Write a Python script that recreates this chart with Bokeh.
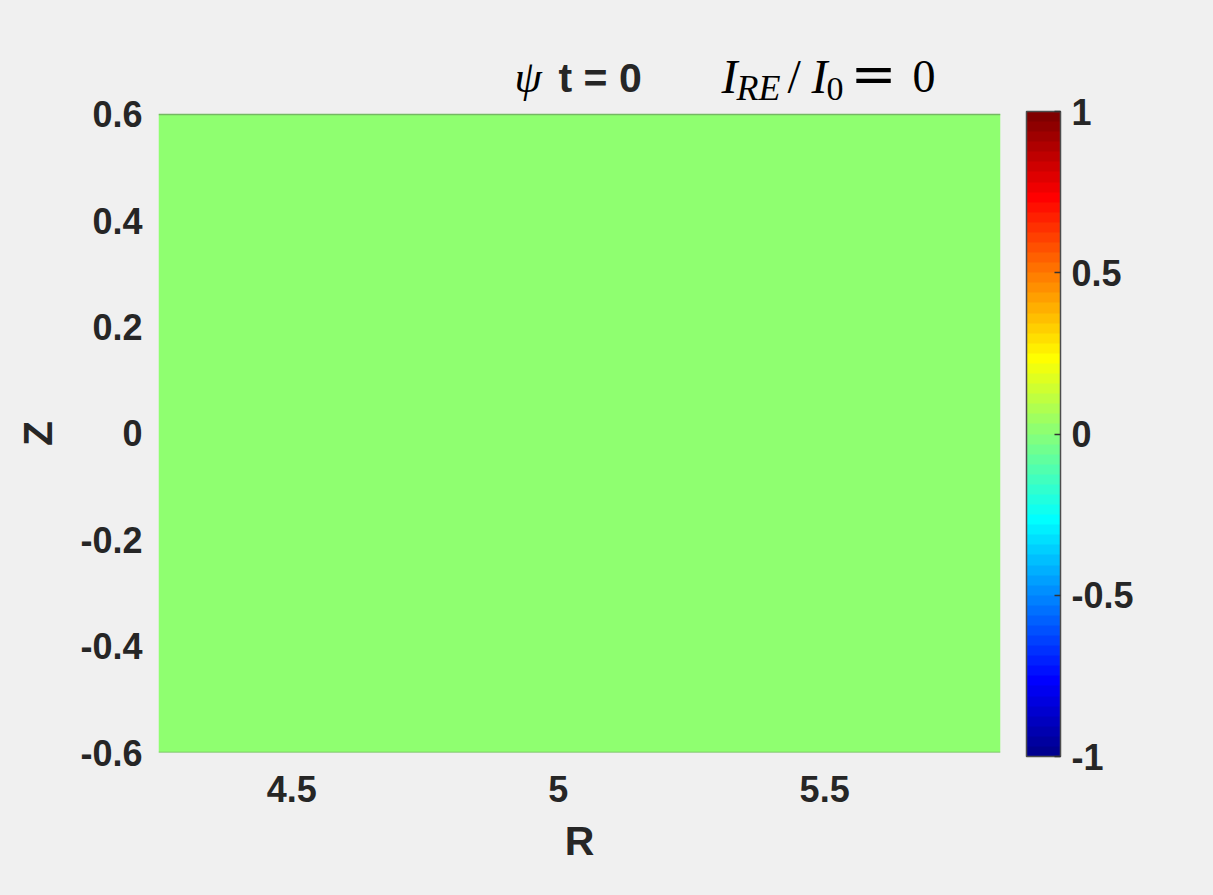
import math
import numpy as np
from bokeh.plotting import figure
from bokeh.models import (LinearColorMapper, ColorBar, FixedTicker, Label, Span,
                          CustomJSTickFormatter, LinearAxis)
from bokeh.embed import file_html
from bokeh.resources import INLINE

# ---------------- data ----------------
R_RANGE = [4.25, 5.83]
Z_RANGE = [-0.6, 0.6]
Z_VIEW_TOP = 0.739          # room above the field for the title line
PSI = [
    [0.0, 0.0, 0.0, 0.0],
    [0.0, 0.0, 0.0, 0.0],
    [0.0, 0.0, 0.0, 0.0],
]
X_TICKS = [4.5, 5.0, 5.5]
X_TICK_LABELS = ["4.5", "5", "5.5"]
Y_TICKS = [-0.6, -0.4, -0.2, 0.0, 0.2, 0.4, 0.6]
Y_TICK_LABELS = ["-0.6", "-0.4", "-0.2", "0", "0.2", "0.4", "0.6"]
CB_TICKS = [-1.0, -0.5, 0.0, 0.5, 1.0]
CB_TICK_LABELS = ["-1", "-0.5", "0", "0.5", "1"]
CLIM = [-1.0, 1.0]
X_LABEL = "R"
Y_LABEL = "Z"
T_VALUE = "0"
I_RATIO = "0"

# ---------------- style ----------------
BG = "#f0f0f0"
TXT = "#262626"
SANS = "Liberation Sans"
SERIF = "Liberation Serif"


def jet(m=64):
    n = math.ceil(m / 4)
    u = [i / n for i in range(1, n + 1)] + [1.0] * (n - 1) + [i / n for i in range(n, 0, -1)]
    g0 = math.ceil(n / 2) - (1 if m % 4 == 1 else 0)
    rgb = [[0.0, 0.0, 0.0] for _ in range(m)]
    for k in range(len(u)):
        g = g0 + k + 1
        for ch, idx in ((0, g + n), (1, g), (2, g - n)):
            if 1 <= idx <= m:
                rgb[idx - 1][ch] = u[k]
    return ["#%02x%02x%02x" % tuple(int(round(c * 255)) for c in row) for row in rgb]


def fmt(ticks, labels):
    return CustomJSTickFormatter(
        args=dict(tv=ticks, tl=labels),
        code="const i = tv.findIndex(t => Math.abs(t - tick) < 1e-9); return i >= 0 ? tl[i] : '';")


mapper = LinearColorMapper(palette=jet(64), low=CLIM[0], high=CLIM[1])

p = figure(frame_width=842, frame_height=712,
           x_range=tuple(R_RANGE), y_range=(Z_RANGE[0], Z_VIEW_TOP),
           min_border_left=158, min_border_right=213,
           min_border_top=40, min_border_bottom=143,
           output_backend="svg", toolbar_location=None,
           background_fill_color=BG, border_fill_color=BG)
p.styles = {"background-color": BG}
p.outline_line_color = None
p.grid.visible = False

p.image(image=[np.array(PSI, dtype=float)], x=R_RANGE[0], y=Z_RANGE[0],
        dw=R_RANGE[1] - R_RANGE[0], dh=Z_RANGE[1] - Z_RANGE[0],
        color_mapper=mapper)

for loc in Z_RANGE:
    p.add_layout(Span(location=loc, dimension="width", line_color="#74b862",
                      line_width=1.5))


def style_axis(ax):
    ax.axis_line_color = None
    ax.major_tick_line_color = None
    ax.minor_tick_line_color = None
    ax.major_label_text_font = SANS
    ax.major_label_text_font_style = "bold"
    ax.major_label_text_font_size = "36px"
    ax.major_label_text_color = TXT
    ax.axis_label_text_font = SANS
    ax.axis_label_text_font_style = "bold"
    ax.axis_label_text_font_size = "41px"
    ax.axis_label_text_color = TXT


xa = p.xaxis[0]
xa.ticker = FixedTicker(ticks=X_TICKS)
xa.formatter = fmt(X_TICKS, X_TICK_LABELS)
xa.axis_label = X_LABEL
style_axis(xa)
xa.major_label_standoff = 17
xa.axis_label_standoff = 13

ya = p.yaxis[0]
ya.ticker = FixedTicker(ticks=Y_TICKS)
ya.formatter = fmt(Y_TICKS, Y_TICK_LABELS)
style_axis(ya)
ya.major_label_standoff = 10

# the Z label sits at the middle of the field (not of the whole frame)
za = LinearAxis(ticker=FixedTicker(ticks=[sum(Z_RANGE) / 2]),
                formatter=fmt([sum(Z_RANGE) / 2], [Y_LABEL]))
style_axis(za)
za.major_label_text_font_size = "41px"
za.major_label_orientation = "parallel"
za.major_label_standoff = 10
p.add_layout(za, "left")

cb = ColorBar(color_mapper=mapper, width=34, height=645,
              location=(26, -4), margin=0, padding=0,
              ticker=FixedTicker(ticks=CB_TICKS),
              formatter=fmt(CB_TICKS, CB_TICK_LABELS),
              major_tick_in=6, major_tick_out=0,
              major_tick_line_color="#333333", major_tick_line_width=1.5,
              minor_tick_line_color=None,
              bar_line_color="#4d4d4d", bar_line_width=1.5,
              border_line_color=None, background_fill_alpha=0,
              label_standoff=11,
              major_label_text_font=SANS, major_label_text_font_style="bold",
              major_label_text_font_size="36px", major_label_text_color=TXT)
p.add_layout(cb, "right")


def title_piece(text, dx, base, font, size, style):
    px = int(size[:-2])
    p.add_layout(Label(x=R_RANGE[0], y=Z_RANGE[1], x_offset=dx, y_offset=base + 0.34 * px,
                       text=text, text_font=font, text_font_size=size,
                       text_font_style=style,
                       text_color=TXT if font == SANS else "#000000",
                       text_baseline="alphabetic", text_align="left"))


MAIN_BASE = 114 - 92
SUB_BASE = 114 - 100
title_piece("\u03c8", 356, MAIN_BASE, SERIF, "44px", "italic")
title_piece("t = " + T_VALUE, 400, MAIN_BASE, SANS, "41px", "bold")
title_piece("I", 563, MAIN_BASE, SERIF, "48px", "italic")
title_piece("RE", 578, SUB_BASE, SERIF, "36px", "italic")
title_piece("/", 629, MAIN_BASE, SERIF, "48px", "normal")
title_piece("I", 653, MAIN_BASE, SERIF, "48px", "italic")
title_piece("0", 668, SUB_BASE, SERIF, "34px", "normal")
title_piece("=", 692, MAIN_BASE, "DejaVu Serif", "55px", "normal")
title_piece(I_RATIO, 754, MAIN_BASE, SERIF, "46px", "normal")

open("out.html", "w").write(file_html(p, INLINE))
